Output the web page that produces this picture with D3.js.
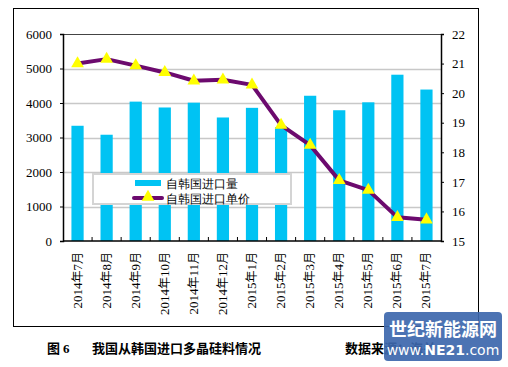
<!DOCTYPE html>
<html><head><meta charset="utf-8">
<script src="https://cdn.jsdelivr.net/npm/d3@7"></script>
<style>body{margin:0;background:#fff}svg{display:block}</style>
</head><body>
<svg id="c" width="508" height="367"></svg>
<script>
const categories = ["2014年7月","2014年8月","2014年9月","2014年10月","2014年11月","2014年12月","2015年1月","2015年2月","2015年3月","2015年4月","2015年5月","2015年6月","2015年7月"];
const volume = [3340,3080,4040,3870,4010,3580,3860,3300,4210,3790,4020,4820,4390];
const price = [21.0,21.15,20.93,20.7,20.42,20.45,20.28,18.92,18.24,17.05,16.72,15.8,15.72];
const leftTicks = [0,1000,2000,3000,4000,5000,6000];
const rightTicks = [15,16,17,18,19,20,21,22];
const seriesNames = ["自韩国进口量","自韩国进口单价"];

const svg = d3.select("#c");
const serif = "'Liberation Serif','DejaVu Serif',serif";
const cjk = "'Noto Sans CJK SC','Liberation Serif',serif";
const L=63,R=441,T=34,B=241;

svg.append("rect").attr("x",13.5).attr("y",8.5).attr("width",465).attr("height",318)
  .attr("fill","#fff").attr("stroke","#000").attr("stroke-width",1);

const x = d3.scaleBand().domain(categories).range([L,R]).paddingInner(0.58).paddingOuter(0.29);
const xb = d3.scaleBand().domain(categories).range([L,R]);
const yL = d3.scaleLinear().domain([0,6000]).range([B,T]);
const yR = d3.scaleLinear().domain([15,22]).range([B,T]);

// gridlines
svg.append("g").selectAll("line").data(leftTicks.filter(d=>d>0&&d<6000)).join("line")
  .attr("x1",L).attr("x2",R).attr("y1",d=>Math.round(yL(d))+0.5).attr("y2",d=>Math.round(yL(d))+0.5)
  .attr("stroke","#c8c8c8").attr("stroke-width",1.5);
svg.append("line").attr("x1",L).attr("x2",R).attr("y1",T+0.5).attr("y2",T+0.5).attr("stroke","#444").attr("stroke-width",1);

// bars
svg.append("g").selectAll("rect").data(volume).join("rect")
  .attr("x",(d,i)=>x(categories[i])).attr("width",x.bandwidth())
  .attr("y",d=>yL(d)).attr("height",d=>B-yL(d)).attr("fill","#00c3f3");

// axes
const ga = svg.append("g").attr("transform",`translate(${L},0)`)
  .call(d3.axisLeft(yL).tickValues(leftTicks).tickFormat(d3.format("d")).tickSize(3).tickPadding(8));
ga.attr("font-family",serif).attr("font-size",13);
ga.selectAll("text").attr("fill","#000");
const gr = svg.append("g").attr("transform",`translate(${R},0)`)
  .call(d3.axisRight(yR).tickValues(rightTicks).tickFormat(d3.format("d")).tickSize(3).tickPadding(8));
gr.attr("font-family",serif).attr("font-size",13);
gr.selectAll("text").attr("fill","#000");
[ga,gr].forEach(g=>{g.select(".domain").attr("stroke","#000").attr("stroke-width",1.5);g.selectAll(".tick line").attr("stroke","#000");});

const gb = svg.append("g").attr("transform",`translate(0,${B})`);
gb.append("line").attr("x1",L).attr("x2",R).attr("stroke","#000").attr("stroke-width",1.5);
gb.selectAll("line.t").data(categories.slice(1)).join("line").attr("class","t")
  .attr("x1",d=>xb(d)).attr("x2",d=>xb(d)).attr("y1",0).attr("y2",-4).attr("stroke","#000");
gb.selectAll("text").data(categories).join("text")
  .attr("transform",d=>`translate(${xb(d)+xb.bandwidth()/2+4},11) rotate(-90)`)
  .attr("text-anchor","end").attr("font-family",cjk).attr("font-size",12).attr("fill","#000")
  .each(function(d){
    const parts = d.match(/(\d+)(年)(\d+)(月)/);
    const t=d3.select(this);
    t.append("tspan").attr("font-family",serif).attr("font-size",13).text(parts[1]);
    t.append("tspan").text(parts[2]);
    t.append("tspan").attr("font-family",serif).attr("font-size",13).text(parts[3]);
    t.append("tspan").text(parts[4]);
  });

// line
const cx = (d,i)=>xb(categories[i])+xb.bandwidth()/2;
svg.append("path").datum(price)
  .attr("d",d3.line().x(cx).y(d=>yR(d)))
  .attr("fill","none").attr("stroke","#6c0a6e").attr("stroke-width",4).attr("stroke-linejoin","round");
const tri = d3.symbol().type(d3.symbolTriangle).size(70);
svg.append("g").selectAll("path").data(price).join("path")
  .attr("transform",(d,i)=>`translate(${cx(d,i)},${yR(d)})`).attr("d",tri).attr("fill","#ffff00");

// legend
const lg = svg.append("g");
lg.append("rect").attr("x",93).attr("y",174).attr("width",198).attr("height",30)
  .attr("fill","#fff").attr("stroke","#d4d4d4").attr("stroke-width",2);
lg.append("rect").attr("x",135).attr("y",180).attr("width",26).attr("height",6).attr("fill","#00c3f3");
lg.append("line").attr("x1",134).attr("x2",162).attr("y1",198).attr("y2",198).attr("stroke","#6c0a6e").attr("stroke-width",4).attr("stroke-linecap","round");
lg.append("path").attr("transform","translate(148,197)").attr("d",tri).attr("fill","#ffff00");
lg.selectAll("text").data(seriesNames).join("text")
  .attr("x",166).attr("y",(d,i)=>188+i*15).attr("font-family",serif).attr("font-size",12).attr("fill","#000").text(d=>d);

// caption
const cap = svg.append("g").attr("font-family",cjk).attr("font-weight","bold").attr("font-size",13).attr("fill","#000");
cap.append("text").attr("x",47).attr("y",353).text("图 ").append("tspan").attr("font-family",serif).text("6");
cap.append("text").attr("x",92).attr("y",353).text("我国从韩国进口多晶硅料情况");
cap.append("text").attr("x",345).attr("y",353).text("数据来源：海关");

// watermark
const wm = svg.append("g");
wm.append("rect").attr("x",384).attr("y",312).attr("width",118).attr("height",49).attr("rx",4)
  .attr("fill","#3d67ad").attr("opacity",0.92);
wm.append("text").attr("x",443).attr("y",336).attr("text-anchor","middle").attr("font-family",cjk)
  .attr("font-weight","bold").attr("font-size",18).attr("fill","#fff").text("世纪新能源网");
wm.append("text").attr("x",443).attr("y",355).attr("text-anchor","middle").attr("font-family","'DejaVu Sans',sans-serif")
  .attr("font-size",14).attr("fill","#fff")
  .html('www.<tspan font-weight="bold">NE21</tspan>.com');
</script>
</body></html>
